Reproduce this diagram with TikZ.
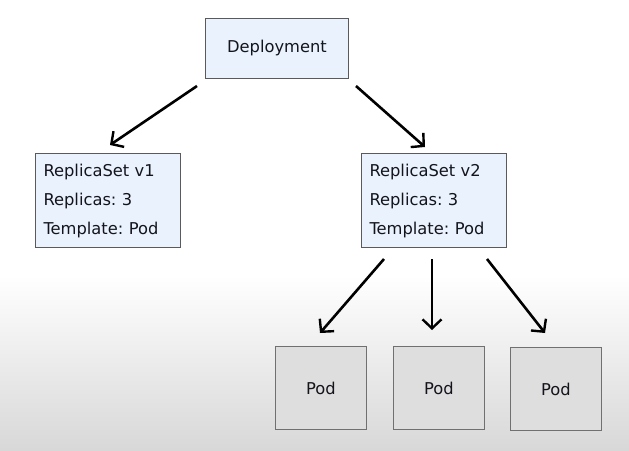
\documentclass[tikz,border=0pt]{standalone}
\usepackage{fontspec}
\setmainfont{DejaVu Sans}
\usetikzlibrary{arrows.meta,calc}
\definecolor{boxblue}{HTML}{EAF3FD}
\definecolor{boxline}{HTML}{5A5A5A}
\definecolor{txt}{HTML}{14141C}
\definecolor{podfill}{HTML}{DEDEDE}
\definecolor{podline}{HTML}{707070}
\definecolor{bgbottom}{HTML}{D8D8D8}
\begin{document}
\frenchspacing
\begin{tikzpicture}[x=1pt,y=1pt,
  txtstyle/.style={font=\fontsize{16.3}{29}\selectfont, text=txt},
  depbox/.style={draw=boxline, line width=1pt, fill=boxblue, txtstyle,
    minimum width=143pt, minimum height=60pt, anchor=north west, inner sep=0pt},
  rsbox/.style={draw=boxline, line width=1pt, fill=boxblue, txtstyle,
    minimum width=145pt, minimum height=94pt, anchor=north west,
    inner xsep=8pt, inner ysep=0pt, text width=129pt, align=left},
  podbox/.style={draw=podline, line width=1pt, fill=podfill, txtstyle,
    minimum width=91pt, minimum height=83pt, anchor=north west, inner sep=0pt},
  arr/.style={-{Straight Barb[length=9pt,width=19pt,line width=2.4pt]}, line width=2.6pt, black}
]
\useasboundingbox (0,0) rectangle (629,-450);
\fill[white] (0,0) rectangle (629,-450);
\shade[top color=white, bottom color=bgbottom] (0,-275) rectangle (629,-450);

\node[depbox] (dep) at (205,-18) {Deployment};
\node[rsbox] (rs1) at (35,-153) {ReplicaSet v1\\Replicas: 3\\Template: Pod};
\node[rsbox] (rs2) at (361,-153) {ReplicaSet v2\\Replicas: 3\\Template: Pod};
\node[podbox] (pod1) at (275,-346) {Pod};
\node[podbox] (pod2) at (393,-346) {Pod};
\node[podbox] (pod3) at (510,-347) {Pod};

\draw[arr] ([xshift=-8pt,yshift=-7pt]dep.south west) -- ([xshift=75pt,yshift=8pt]rs1.north west);
\draw[arr] ([xshift=7pt,yshift=-7pt]dep.south east) -- ([xshift=64pt,yshift=6pt]rs2.north west);
\draw[arr] ([xshift=23pt,yshift=-11pt]rs2.south west) -- ([xshift=45pt,yshift=13pt]pod1.north west);
\draw[arr] ([xshift=71pt,yshift=-11pt]rs2.south west) -- ([xshift=39pt,yshift=16pt]pod2.north west);
\draw[arr] ([xshift=126pt,yshift=-11pt]rs2.south west) -- ([xshift=35pt,yshift=14pt]pod3.north west);
\end{tikzpicture}
\end{document}
